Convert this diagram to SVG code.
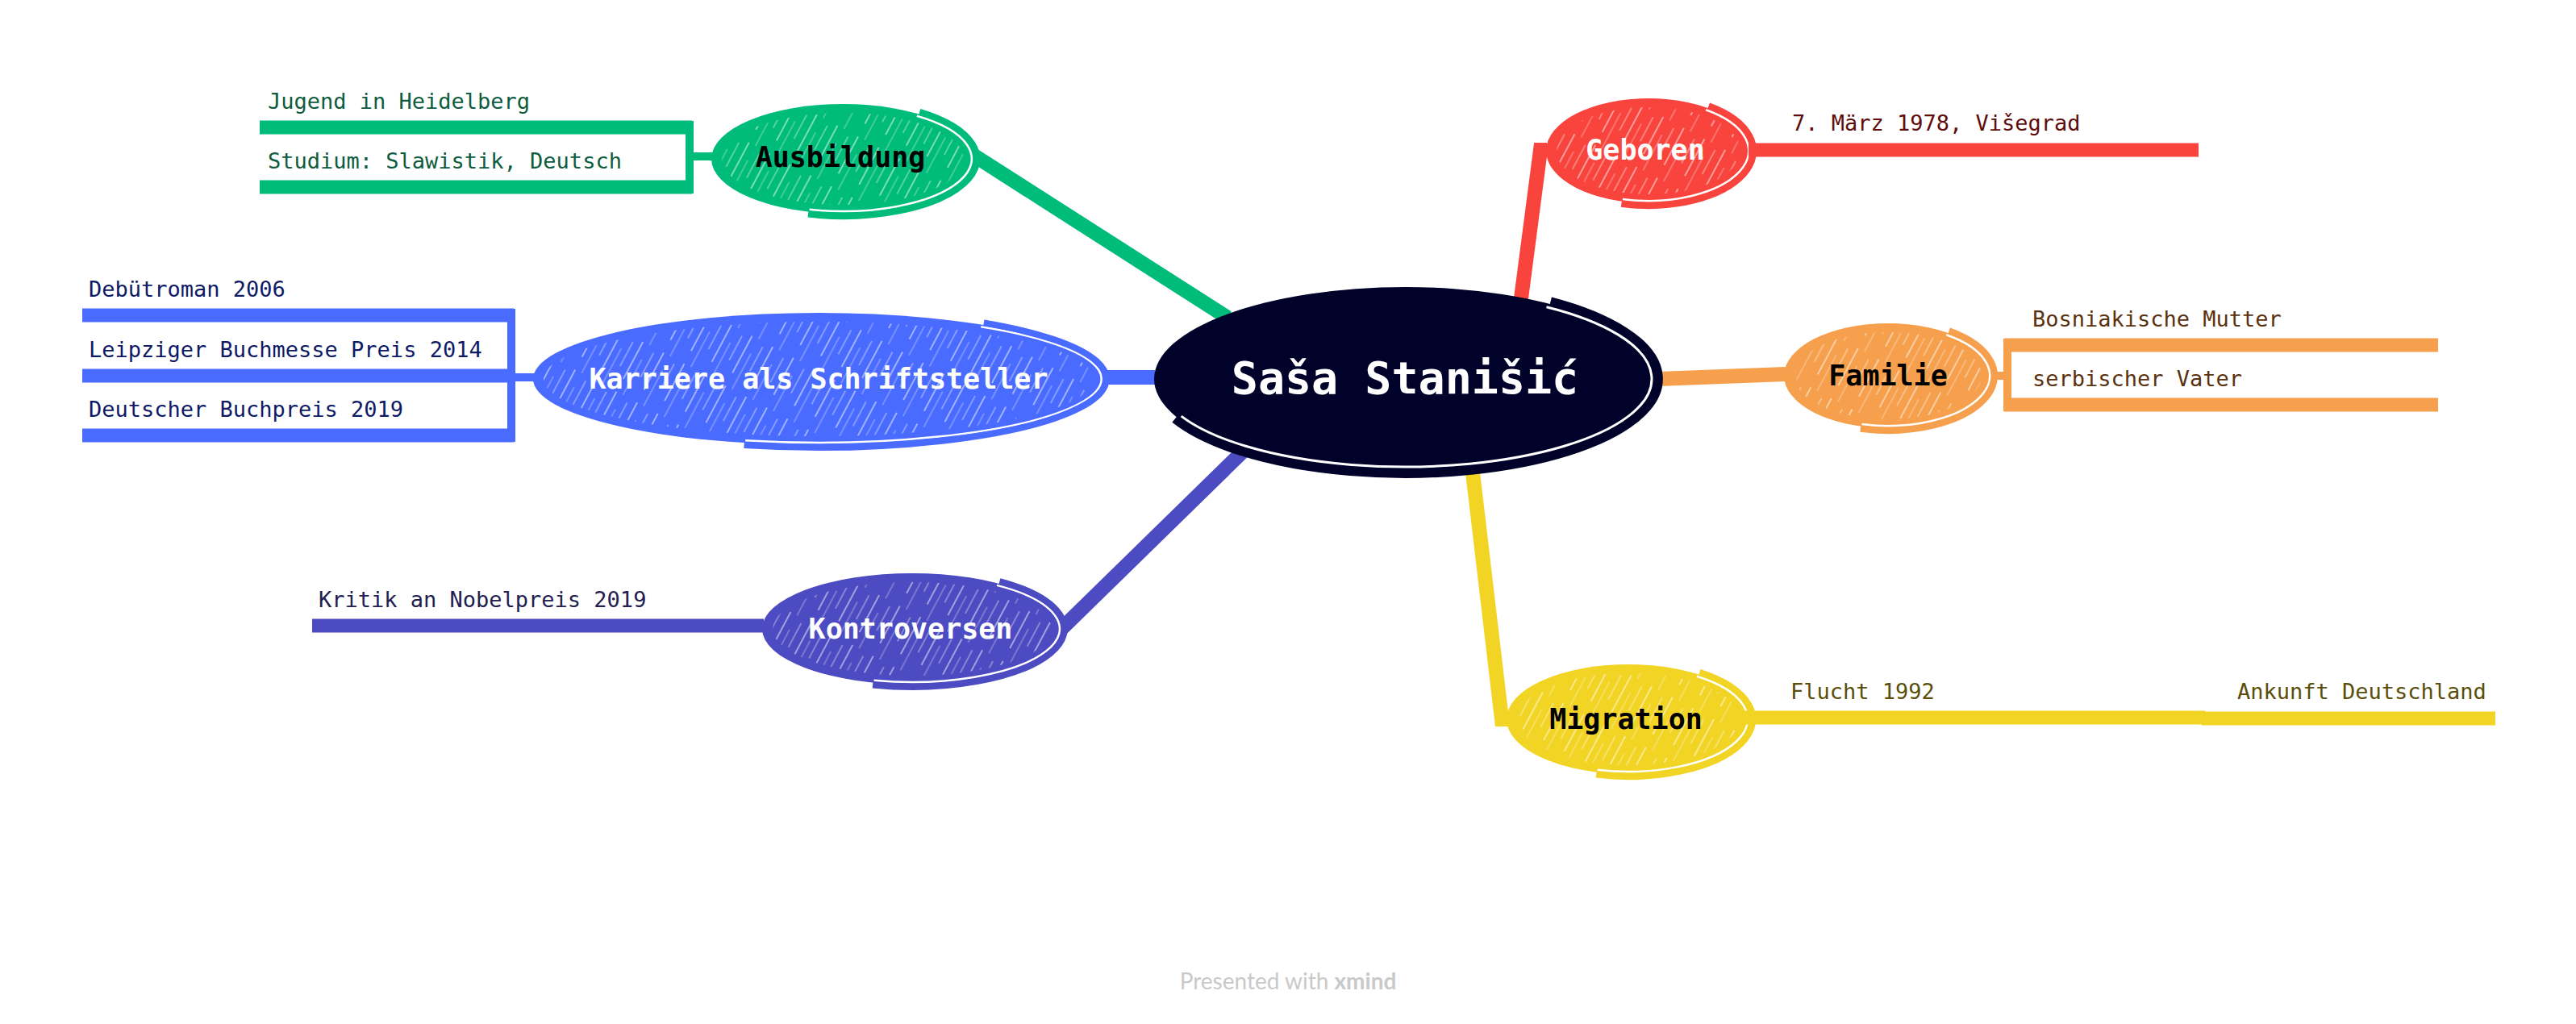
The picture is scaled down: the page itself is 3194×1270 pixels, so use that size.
<svg xmlns="http://www.w3.org/2000/svg" width="3194" height="1270" viewBox="0 0 3194 1270">
<style>
.mono{font-family:"DejaVu Sans Mono","Liberation Mono",monospace}
.main{font-size:35px;font-weight:bold;text-anchor:middle}
.sub{font-size:27px}
.ln{fill:none;stroke-linecap:butt}
.conn{stroke-width:18}
.ul{stroke-width:17}
.br{stroke-width:10}
.gap{fill:none;stroke:#fff;stroke-width:2.5}
.ring{fill:none;stroke-width:8}
</style>
<defs>
<pattern id="hatch" patternUnits="userSpaceOnUse" width="29" height="70" patternTransform="rotate(28)">
<line x1="4" y1="0" x2="4" y2="52" stroke="#fff" stroke-width="1.6" stroke-opacity="0.6"/>
<line x1="13" y1="20" x2="13" y2="70" stroke="#fff" stroke-width="1.1" stroke-opacity="0.45"/>
<line x1="22" y1="6" x2="22" y2="40" stroke="#fff" stroke-width="1.3" stroke-opacity="0.5"/>
</pattern>
</defs>
<rect width="3194" height="1270" fill="#fff"/>

<g id="connectors" class="ln">
<line class="conn" x1="1208" y1="193" x2="1522" y2="394" stroke="#00BC7B"/>
<line class="conn" x1="1366" y1="468" x2="1432" y2="468" stroke="#4A6BFF"/>
<line class="conn" x1="1316" y1="780" x2="1547" y2="554" stroke="#4C4BC1"/>
<polyline class="conn" points="1886,370 1910,186 1918,186" stroke="#F9443E"/>
<line class="conn" x1="2056" y1="470" x2="2214" y2="464" stroke="#F6A04D"/>
<polyline class="conn" points="1826,586 1862,892 1870,892" stroke="#F2D424"/>
<line class="br" x1="855" y1="150" x2="855" y2="240" stroke="#00BC7B"/>
<line class="br" x1="850" y1="194" x2="884" y2="194" stroke="#00BC7B"/>
<line class="br" x1="634" y1="383" x2="634" y2="548" stroke="#4A6BFF"/>
<line class="br" x1="630" y1="468" x2="663" y2="468" stroke="#4A6BFF"/>
<line class="br" x1="2489" y1="420" x2="2489" y2="510" stroke="#F6A04D"/>
<line class="br" x1="2468" y1="466" x2="2494" y2="466" stroke="#F6A04D"/>
</g>

<g id="central">
<ellipse cx="1742" cy="470" rx="311" ry="114" fill="#000229"/>
<path fill="none" stroke="#fff" stroke-width="3" d="M1917.5,380.7 A306,109 0 1 1 1464.7,516.1"/>
<path fill="none" stroke="#000229" stroke-width="10" d="M1922.7,373.3 A315,118 0 1 1 1456.5,519.9"/>
<text class="mono" x="1742" y="488" font-size="55" font-weight="bold" fill="#fff" text-anchor="middle">Saša Stanišić</text>
</g>

<g id="ausbildung">
<ellipse cx="1045" cy="197" rx="163" ry="68" fill="#00BC7B"/>
<ellipse cx="1045" cy="197" rx="150" ry="57" fill="url(#hatch)"/>
<path class="gap" d="M1136.8,143.8 A160,65 0 0 1 1003.6,259.8"/>
<path class="ring" stroke="#00BC7B" d="M1140.2,138.8 A166,71 0 0 1 1002,265.6"/>
<text class="mono main" x="1042" y="207" fill="#000">Ausbildung</text>
</g>
<g id="jugend">
<line class="ln ul" x1="322" y1="158" x2="858" y2="158" stroke="#00BC7B"/>
<text class="mono sub" x="332" y="135" fill="#0D5C3E">Jugend in Heidelberg</text>
</g>
<g id="studium">
<line class="ln ul" x1="322" y1="232" x2="858" y2="232" stroke="#00BC7B"/>
<text class="mono sub" x="332" y="209" fill="#0D5C3E">Studium: Slawistik, Deutsch</text>
</g>

<g id="karriere">
<ellipse cx="1015" cy="470" rx="354" ry="82" fill="#4A6BFF"/>
<ellipse cx="1015" cy="470" rx="341" ry="71" fill="url(#hatch)"/>
<path class="gap" d="M1216.3,405.3 A351,79 0 0 1 924.2,546.3"/>
<path class="ring" stroke="#4A6BFF" d="M1219.8,400.4 A357,85 0 0 1 922.6,552.1"/>
<text class="mono main" x="1015" y="482" fill="#fff">Karriere als Schriftsteller</text>
</g>
<g id="debuet">
<line class="ln ul" x1="102" y1="391" x2="637" y2="391" stroke="#4A6BFF"/>
<text class="mono sub" x="110" y="368" fill="#0E1A66">Debütroman 2006</text>
</g>
<g id="leipzig">
<line class="ln ul" x1="102" y1="466" x2="637" y2="466" stroke="#4A6BFF"/>
<text class="mono sub" x="110" y="443" fill="#0E1A66">Leipziger Buchmesse Preis 2014</text>
</g>
<g id="buchpreis">
<line class="ln ul" x1="102" y1="540" x2="637" y2="540" stroke="#4A6BFF"/>
<text class="mono sub" x="110" y="517" fill="#0E1A66">Deutscher Buchpreis 2019</text>
</g>

<g id="kontroversen">
<ellipse cx="1131" cy="780" rx="186" ry="69" fill="#4C4BC1"/>
<ellipse cx="1131" cy="780" rx="173" ry="58" fill="url(#hatch)"/>
<path class="gap" d="M1236,725.9 A183,66 0 0 1 1083.6,843.7"/>
<path class="ring" stroke="#4C4BC1" d="M1239.4,721 A189,72 0 0 1 1082.1,849.5"/>
<text class="mono main" x="1129" y="792" fill="#fff">Kontroversen</text>
</g>
<g id="kritik">
<line class="ln ul" x1="387" y1="776" x2="947" y2="776" stroke="#4C4BC1"/>
<text class="mono sub" x="395" y="753" fill="#22204F">Kritik an Nobelpreis 2019</text>
</g>

<g id="geboren">
<ellipse cx="2044" cy="187" rx="127" ry="65" fill="#F9443E"/>
<ellipse cx="2044" cy="187" rx="114" ry="54" fill="url(#hatch)"/>
<path class="gap" d="M2115.1,136.2 A124,62 0 0 1 2011.9,246.9"/>
<path class="ring" stroke="#F9443E" d="M2118.6,131.3 A130,68 0 0 1 2010.4,252.7"/>
<text class="mono main" x="2040" y="198" fill="#fff">Geboren</text>
</g>
<g id="datum">
<line class="ln ul" x1="2168" y1="186" x2="2726" y2="186" stroke="#F9443E"/>
<text class="mono sub" x="2222" y="162" fill="#5E0C0C">7. März 1978, Višegrad</text>
</g>

<g id="familie">
<ellipse cx="2341" cy="466" rx="129" ry="65" fill="#F6A04D"/>
<ellipse cx="2341" cy="466" rx="116" ry="54" fill="url(#hatch)"/>
<path class="gap" d="M2413.3,415.2 A126,62 0 0 1 2308.4,525.9"/>
<path class="ring" stroke="#F6A04D" d="M2416.7,410.3 A132,68 0 0 1 2306.8,531.7"/>
<text class="mono main" x="2341" y="478" fill="#000">Familie</text>
</g>
<g id="mutter">
<line class="ln ul" x1="2485" y1="428" x2="3023" y2="428" stroke="#F6A04D"/>
<text class="mono sub" x="2520" y="405" fill="#5A3210">Bosniakische Mutter</text>
</g>
<g id="vater">
<line class="ln ul" x1="2485" y1="502" x2="3023" y2="502" stroke="#F6A04D"/>
<text class="mono sub" x="2520" y="479" fill="#5A3210">serbischer Vater</text>
</g>

<g id="migration">
<ellipse cx="2019" cy="892" rx="151" ry="68" fill="#F2D424"/>
<ellipse cx="2019" cy="892" rx="138" ry="57" fill="url(#hatch)"/>
<path class="gap" d="M2103.9,838.8 A148,65 0 0 1 1980.7,954.8"/>
<path class="ring" stroke="#F2D424" d="M2107.3,833.8 A154,71 0 0 1 1979.1,960.6"/>
<text class="mono main" x="2016" y="904" fill="#000">Migration</text>
</g>
<g id="flucht">
<line class="ln ul" x1="2164" y1="890" x2="2734" y2="890" stroke="#F2D424"/>
<text class="mono sub" x="2220" y="867" fill="#5A4E0A">Flucht 1992</text>
</g>
<g id="ankunft">
<line class="ln ul" x1="2730" y1="891" x2="3094" y2="891" stroke="#F2D424"/>
<text class="mono sub" x="2774" y="867" fill="#5A4E0A">Ankunft Deutschland</text>
</g>

<text x="1597" y="1227" font-family="Lato, 'Noto Sans', sans-serif" font-size="28" fill="#c9c9c9" text-anchor="middle">Presented with <tspan font-weight="bold">xmind</tspan></text>
</svg>
